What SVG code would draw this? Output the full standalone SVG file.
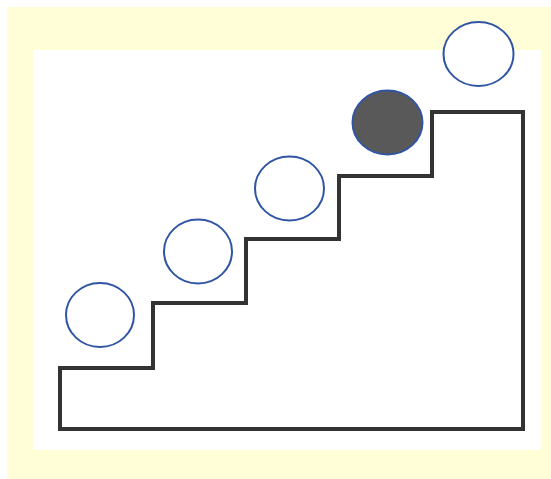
<svg xmlns="http://www.w3.org/2000/svg" width="551" height="479" viewBox="0 0 551 479">
<style>
.ball{fill:#ffffff;stroke:#2f55a4;stroke-width:2}
.ball.on{fill:#595959}
.stairs{fill:none;stroke:#333333;stroke-width:4;stroke-linejoin:miter}
</style>
<rect x="0" y="0" width="551" height="479" fill="#ffffff"/>
<rect x="7" y="7" width="544" height="472" fill="#fffed6"/>
<rect x="33" y="50" width="508" height="400" fill="#ffffff"/>
<g id="connectors">
<path class="stairs" d="M60,429 V368 H153 V303 H246 V239 H339 V176 H432 V112 H523 V429 Z"/>
</g>
<g id="ball1"><ellipse class="ball" cx="100" cy="315" rx="34" ry="32"/></g>
<g id="ball2"><ellipse class="ball" cx="198" cy="251.5" rx="34" ry="32"/></g>
<g id="ball3"><ellipse class="ball" cx="289.5" cy="188.5" rx="34.5" ry="32"/></g>
<g id="ball4"><ellipse class="ball on" cx="387.5" cy="122.5" rx="35" ry="32"/></g>
<g id="ball5"><ellipse class="ball" cx="478.5" cy="54" rx="35" ry="32"/></g>
</svg>
